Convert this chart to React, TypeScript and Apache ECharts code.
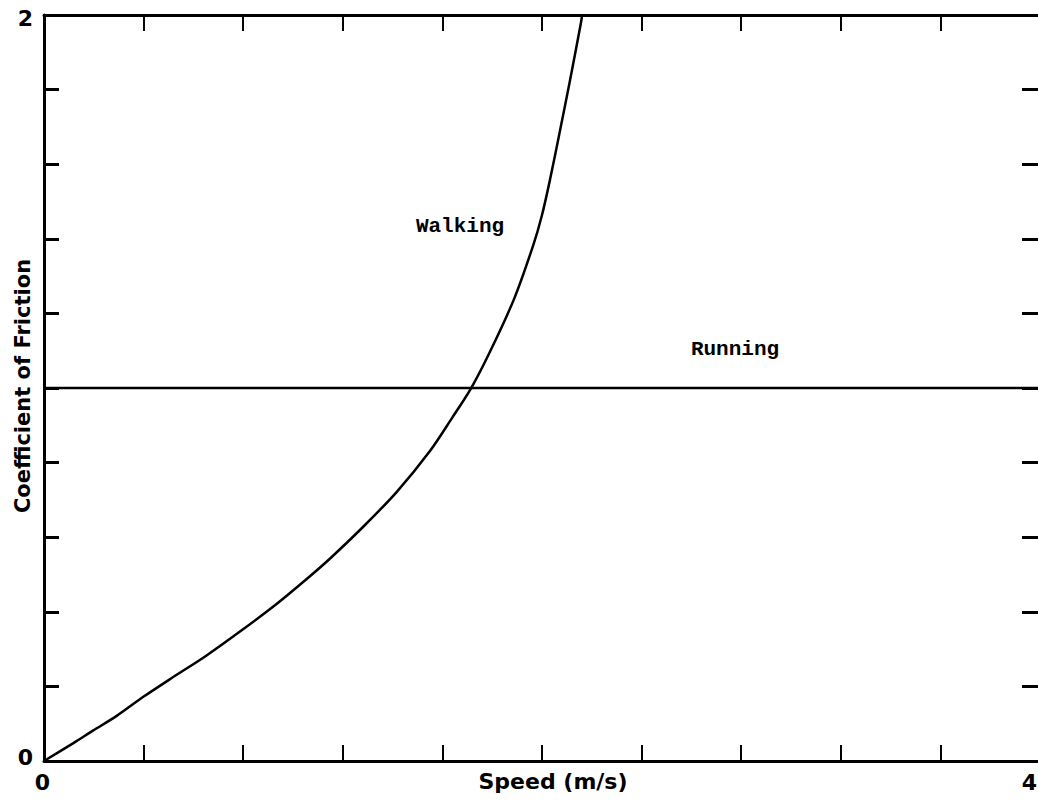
import React, { useEffect, useRef } from "react";
import * as echarts from "echarts";

// Walking curve: [speed (m/s), coefficient of friction]
const walkingSpeed = [0, 0.118, 0.198, 0.292, 0.399, 0.519, 0.653, 0.787, 0.921, 1.055, 1.149, 1.282, 1.416, 1.55, 1.639, 1.715, 1.791, 1.888, 1.965, 1.999, 2.032, 2.072, 2.112, 2.157, 2.161];
const walkingFriction = [0, 0.048, 0.082, 0.121, 0.172, 0.225, 0.283, 0.347, 0.414, 0.488, 0.543, 0.628, 0.721, 0.831, 0.92, 0.999, 1.097, 1.239, 1.383, 1.461, 1.558, 1.689, 1.823, 1.981, 2.0];
// Running: constant friction line
const runningSpeed = [0, 4];
const runningFriction = [1.0, 1.0];

const xTickLabels = ["0", "4"];
const yTickLabels = ["0", "2"];
const xLabelText = "Speed (m/s)";
const yLabelText = "Coefficient of Friction";
const walkingText = "Walking";
const runningText = "Running";

const X_MIN = 0, X_MAX = 4, X_INT = 0.4;
const Y_MIN = 0, Y_MAX = 2, Y_INT = 0.2;

export default function App() {
  const ref = useRef<HTMLDivElement>(null);
  useEffect(() => {
    if (!ref.current) return;
    const chart = echarts.init(ref.current, undefined, { renderer: "svg" });
    const near = (a: number, b: number) => Math.abs(a - b) < 1e-6;
    const labelFont = { fontFamily: "DejaVu Sans", fontWeight: "bold" as const, fontSize: 22, color: "#000" };
    const walkingData = walkingSpeed.map((x, i) => [x, walkingFriction[i]]);
    const runningData = runningSpeed.map((x, i) => [x, runningFriction[i]]);
    chart.setOption({
      animation: false,
      backgroundColor: "#fff",
      grid: { left: 44, right: -2, top: 15, bottom: 41, containLabel: false, outerBoundsMode: "none" },
      xAxis: [
        {
          type: "value", min: X_MIN, max: X_MAX, interval: X_INT, position: "bottom",
          axisLine: { show: true, onZero: false, lineStyle: { color: "#000", width: 3 } },
          axisTick: { show: true, inside: true, length: 16, lineStyle: { color: "#000", width: 2 } },
          splitLine: { show: false },
          axisLabel: {
            ...labelFont, margin: 10, alignMaxLabel: "right", showMaxLabel: true, showMinLabel: true,
            padding: [0, 3, 0, 0],
            formatter: (v: number) => (near(v, X_MIN) ? xTickLabels[0] : near(v, X_MAX) ? xTickLabels[1] : ""),
          },
        },
        {
          type: "value", min: X_MIN, max: X_MAX, interval: X_INT, position: "top",
          axisLine: { show: true, onZero: false, lineStyle: { color: "#000", width: 3 } },
          axisTick: { show: true, inside: true, length: 16, lineStyle: { color: "#000", width: 2 } },
          splitLine: { show: false }, axisLabel: { show: false },
        },
      ],
      yAxis: [
        {
          type: "value", min: Y_MIN, max: Y_MAX, interval: Y_INT, position: "left",
          axisLine: { show: true, onZero: false, lineStyle: { color: "#000", width: 3 } },
          axisTick: { show: true, inside: true, length: 15, lineStyle: { color: "#000", width: 3 } },
          splitLine: { show: false },
          axisLabel: {
            margin: 11, showMaxLabel: true, showMinLabel: true,
            formatter: (v: number) => (near(v, Y_MIN) ? "{bot|" + yTickLabels[0] + "}" : near(v, Y_MAX) ? "{top|" + yTickLabels[1] + "}" : ""),
            rich: {
              top: { ...labelFont, padding: [6, 0, 0, 0] },
              bot: { ...labelFont, padding: [0, 0, 8, 0] },
            },
          },
        },
        {
          type: "value", min: Y_MIN, max: Y_MAX, interval: Y_INT, position: "right",
          axisLine: { show: true, onZero: false, lineStyle: { color: "#000", width: 3 } },
          axisTick: { show: true, inside: true, length: 18, lineStyle: { color: "#000", width: 3 } },
          splitLine: { show: false }, axisLabel: { show: false },
        },
      ],
      series: [
        {
          type: "line", name: walkingText, data: walkingData, showSymbol: false,
          smooth: 0.3,
          lineStyle: { color: "#000", width: 2.5 }, xAxisIndex: 0, yAxisIndex: 0,
        },
        {
          type: "line", name: runningText, data: runningData, showSymbol: false,
          lineStyle: { color: "#000", width: 2.5 }, xAxisIndex: 0, yAxisIndex: 0,
        },
      ],
      graphic: [
        {
          type: "text", x: 553, y: 781,
          style: { text: xLabelText, ...labelFont, fill: "#000", align: "center", verticalAlign: "middle" },
        },
        {
          type: "text", x: 23, y: 386, rotation: Math.PI / 2,
          style: { text: yLabelText, fontFamily: "DejaVu Sans", fontWeight: "bold", fontSize: 21, fill: "#000", align: "center", verticalAlign: "middle" },
        },
        {
          type: "text", x: 460, y: 226,
          style: { text: walkingText, fontFamily: "Liberation Mono", fontWeight: "bold", fontSize: 21, fill: "#000", align: "center", verticalAlign: "middle" },
        },
        {
          type: "text", x: 735, y: 349,
          style: { text: runningText, fontFamily: "Liberation Mono", fontWeight: "bold", fontSize: 21, fill: "#000", align: "center", verticalAlign: "middle" },
        },
      ],
    });
    return () => chart.dispose();
  }, []);
  return <div ref={ref} style={{ position: "absolute", left: 0, top: 0, width: 1038, height: 802 }} />;
}
